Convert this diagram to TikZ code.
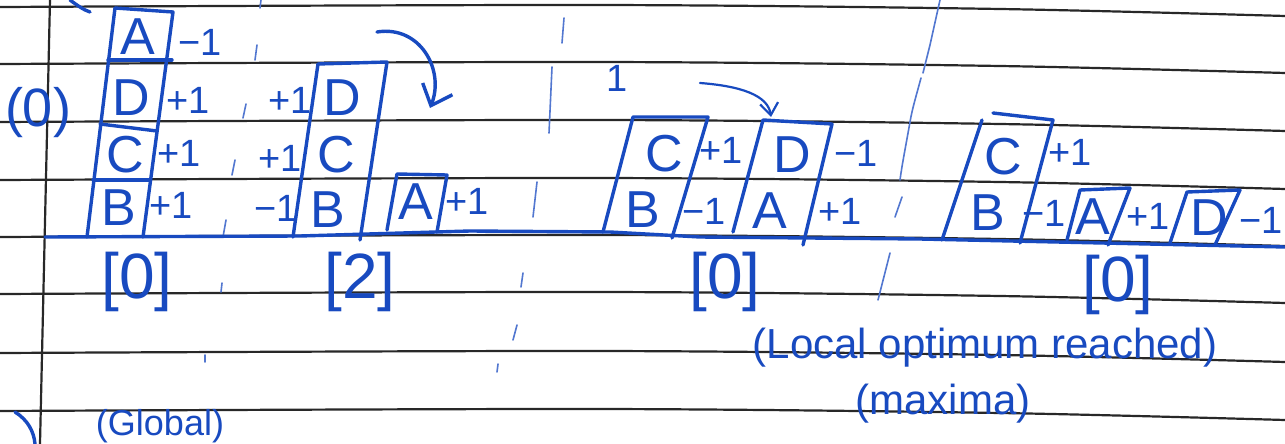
\documentclass[tikz,border=0pt]{standalone}
\usepackage{fontspec}
\setmainfont{Liberation Sans}
\usepackage{xcolor}
\usetikzlibrary{arrows.meta}
\definecolor{inkblue}{RGB}{24,74,192}
\definecolor{ruleblack}{RGB}{40,40,40}

\begin{document}
\begin{tikzpicture}[x=0.5pt,y=-0.5pt,
  rule/.style={ruleblack,line width=1.1pt},
  ink/.style={inkblue,line width=1.7pt,line cap=round,line join=round},
  faint/.style={inkblue!75,line width=0.8pt,line cap=round},
  letter/.style={text=inkblue,inner sep=0pt,font=\fontsize{26}{28}\selectfont},
  score/.style={text=inkblue,inner sep=0pt,font=\fontsize{19}{21}\selectfont},
  total/.style={text=inkblue,inner sep=0pt,font=\fontsize{32}{34}\selectfont},
  note/.style={text=inkblue,inner sep=0pt,font=\fontsize{21}{23}\selectfont}]
\useasboundingbox (0,0) rectangle (1285,444);
\fill[white] (0,0) rectangle (1285,444);
\clip (0,0) rectangle (1285,444);
% ruled paper
\foreach \y in {7,64,122,180,237,294,353,411}
  \draw[rule] plot[smooth] coordinates {(0,\y) (600,\y-2) (1000,\y+2) (1285,\y+9)};
\draw[rule] (50,0) -- (40,444);
% faint column ticks
\draw[faint] (261,0) -- (260,8);
\draw[faint] (257,45) -- (255,60);
\draw[faint] (246,104) -- (243,118);
\draw[faint] (235,160) -- (232,175);
\draw[faint] (226,220) -- (223,237);
\draw[faint] (222,283) -- (221,292);
\draw[faint] (205,355) -- (205,362);
\draw[faint] (564,18) -- (562,43);
\draw[faint] (552,67) -- (549,133);
\draw[faint] (537,182) -- (533,217);
\draw[faint] (523,273) -- (521,287);
\draw[faint] (517,325) -- (513,340);
\draw[faint] (498,364) -- (497,372);
\draw[faint] (940,0) -- (930,45) -- (923,73);
\draw[faint] (921,78) .. controls (915,100) and (912,110) .. (910,122) .. controls (905,150) and (902,165) .. (900,180);
\draw[faint] (902,197) -- (895,217);
\draw[faint] (890,253) -- (878,300);
\draw[ink] (70,0) .. controls (78,6) and (84,10) .. (90,12);
% ground line
\draw[ink] (45,237) -- (300,236) -- (470,231) -- (610,232) -- (700,237) -- (920,239) -- (1285,247);
% (0)
\node[total,font=\fontsize{27}{29}\selectfont] (start) at (38,113) {(0)};
% first stack A D C B
\draw[ink] (115,8) -- (173,12) -- (143,237);
\draw[ink] (115,8) -- (87,237);
\draw[ink] (108,60) -- (172,60);
\draw[ink] (100,124) -- (157,131);
\draw[ink] (93,180) -- (150,180);
\node[letter] (a1) at (138,37) {A};
\node[letter] (d1) at (131,98) {D};
\node[letter] (c1) at (125,155) {C};
\node[letter] (b1) at (119,208) {B};
\node[score] (sa1) at (200,42) {−1};
\node[score] (sd1) at (188,100) {+1};
\node[score] (sc1) at (179,153) {+1};
\node[score] (sb1) at (171,205) {+1};
\node[total] (t1) at (137,282) {[0]};
% second stack D C B, A
\draw[ink] (318,64) -- (387,62) -- (360,240);
\draw[ink] (318,64) -- (293,237);
\draw[ink] (387,230) -- (397,174) -- (447,175) -- (437,232);
\node[score] (sd2) at (290,100) {+1};
\node[score] (sc2) at (280,158) {+1};
\node[score] (sb2) at (276,208) {−1};
\node[letter] (d2) at (342,98) {D};
\node[letter] (c2) at (336,155) {C};
\node[letter] (b2) at (328,210) {B};
\node[letter] (a2) at (416,202) {A};
\node[score] (sa2) at (467,201) {+1};
\node[total] (t2) at (360,282) {[2]};
\coordinate (m1s) at (377,32);
\coordinate (m1e) at (430,108);
\draw[ink,-{Straight Barb[length=9pt,width=16pt]}] (m1s) .. controls (420,25) and (445,70) .. (m1e);
% third stack C B, D A
\node[score] (one) at (617,78) {1};
\draw[ink] (603,232) -- (633,117) -- (708,117) -- (672,238);
\draw[ink] (733,232) -- (763,120) -- (832,124) -- (803,245);
\node[letter] (c3) at (664,154) {C};
\node[letter] (b3) at (643,210) {B};
\node[score] (sc3) at (721,150) {+1};
\node[score] (sb3) at (704,211) {−1};
\node[letter] (d3) at (792,155) {D};
\node[letter] (a3) at (770,211) {A};
\node[score] (sd3) at (856,153) {−1};
\node[score] (sa3) at (840,211) {+1};
\node[total] (t3) at (725,282) {[0]};
\coordinate (m2s) at (700,83);
\coordinate (m2e) at (771,117);
\draw[ink,line width=1.1pt,-{Straight Barb[length=6pt,width=9pt]}] (m2s) .. controls (740,86) and (768,95) .. (m2e);
% fourth stack C B, A, D
\draw[ink] (942,240) -- (982,120);
\draw[ink] (993,113) -- (1053,120) -- (1020,243);
\draw[ink] (1067,240) -- (1080,190) -- (1130,188) -- (1108,245);
\draw[ink] (1170,243) -- (1187,192) -- (1240,190) -- (1215,245);
\node[letter] (c4) at (1003,157) {C};
\node[letter] (b4) at (988,213) {B};
\node[score] (sc4) at (1070,152) {+1};
\node[score] (sb4) at (1044,213) {−1};
\node[letter] (a4) at (1093,217) {A};
\node[score] (sa4) at (1148,216) {+1};
\node[letter] (d4) at (1209,218) {D};
\node[score] (sd4) at (1261,220) {−1};
\node[total] (t4) at (1118,285) {[0]};
% notes
\node[note] (local) at (985,348) {(Local optimum reached)};
\node[note] (maxima) at (943,404) {(maxima)};
\draw[ink] (15,412) .. controls (28,420) and (34,432) .. (35,444);
\node[note,font=\fontsize{18}{20}\selectfont,anchor=south] (global) at (160,443) {(Global)};
\end{tikzpicture}
\end{document}
